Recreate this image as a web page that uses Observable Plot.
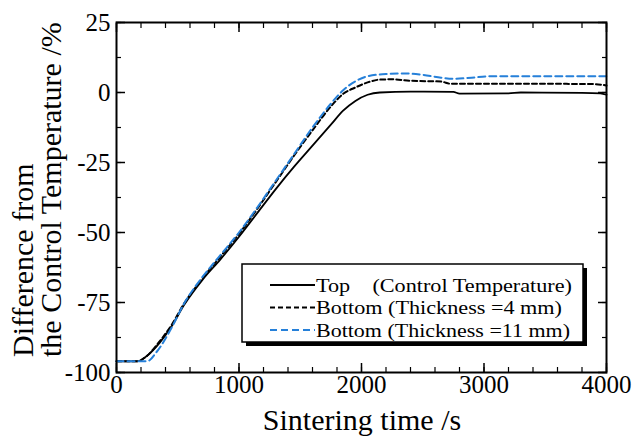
<!DOCTYPE html>
<html><head><meta charset="utf-8">
<script src="https://cdn.jsdelivr.net/npm/d3@7"></script>
<script src="https://cdn.jsdelivr.net/npm/@observablehq/plot@0.6"></script>
<style>body{margin:0;background:#fff} svg{display:block}</style>
</head><body><div id="chart"></div>
<script>
const seriesNames = ["Top    (Control Temperature)", "Bottom (Thickness =4 mm)", "Bottom (Thickness =11 mm)"];
const seriesColors = ["#000000", "#000000", "#2680d9"];
const seriesDash = [null, "5,3", "7,4"];
const legendTextWidths = [256, 246, 254];

const topTime  = [0, 170, 250, 350, 450, 550, 700, 850, 1000, 1150, 1300, 1450, 1600, 1750, 1850, 1950, 2050, 2150, 2400, 2750, 2800, 3200, 3300, 3800, 3950, 4000];
const topValue = [-96, -96, -94, -89.5, -83.5, -76, -67, -59.5, -51.5, -43, -34.5, -26.5, -19, -11.5, -6.5, -3, -0.8, 0, 0.3, 0.2, -0.4, -0.3, 0, -0.1, -0.3, -0.8];

const bot4Time  = [0, 170, 250, 350, 450, 550, 700, 850, 1000, 1150, 1300, 1450, 1600, 1750, 1850, 1950, 2050, 2150, 2250, 2400, 2650, 2730, 3000, 3500, 3900, 4000];
const bot4Value = [-96, -96, -94, -89, -83, -75.5, -66.5, -58.5, -50.5, -41.5, -32, -22.5, -13.5, -5, -0.5, 1.8, 3.6, 4.6, 4.7, 4.2, 3.9, 3.1, 3.1, 3.1, 3.0, 2.5];

const bot11Time  = [0, 250, 330, 450, 550, 700, 850, 1000, 1150, 1300, 1450, 1600, 1750, 1850, 1950, 2050, 2200, 2350, 2500, 2650, 2750, 2900, 3050, 4000];
const bot11Value = [-96, -96, -92.5, -84, -75.5, -66, -58, -50, -41, -31.5, -22, -12.5, -4, 0.8, 4, 5.8, 6.6, 6.8, 6.3, 5.3, 4.9, 5.3, 5.8, 5.8];

const xMajorTicks = [0, 1000, 2000, 3000, 4000];
const xMinorTicks = [0, 200, 400, 600, 800, 1000, 1200, 1400, 1600, 1800, 2000, 2200, 2400, 2600, 2800, 3000, 3200, 3400, 3600, 3800, 4000];
const yMajorTicks = [-100, -75, -50, -25, 0, 25];
const yMinorTicks = [-100, -87.5, -75, -62.5, -50, -37.5, -25, -12.5, 0, 12.5, 25];

const xLabel = "Sintering time /s";
const yLabelLines = ["Difference from", "the Control Temperature /%"];

const times = [topTime, bot4Time, bot11Time];
const values = [topValue, bot4Value, bot11Value];
const rows = [];
seriesNames.forEach((s, i) => times[i].forEach((t, j) => rows.push({series: s, idx: i, t, v: values[i][j]})));

const font = "'Liberation Serif', 'Times New Roman', serif";
const lineMarks = seriesNames.map((s, i) => Plot.line(rows.filter(r => r.idx === i), {
  x: "t", y: "v", stroke: seriesColors[i], strokeWidth: i === 0 ? 1.8 : 2,
  strokeDasharray: seriesDash[i], curve: "monotone-x"
}));

const fmt = d => String(d);
const plot = Plot.plot({
  width: 634, height: 439,
  marginLeft: 116, marginRight: 28, marginTop: 22, marginBottom: 67,
  style: {fontFamily: font, background: "white", color: "black"},
  x: {domain: [0, 4000], axis: null},
  y: {domain: [-100, 25], axis: null},
  marks: [
    ...lineMarks,
    Plot.axisX(xMajorTicks, {anchor: "bottom", tickSize: 0, tickPadding: 3, fontSize: 25, tickFormat: fmt, label: null}),
    Plot.axisX(xMajorTicks, {anchor: "bottom", tickSize: -9, strokeWidth: 1.5, fill: "none", label: null}),
    Plot.axisX(xMinorTicks, {anchor: "bottom", tickSize: -5, strokeWidth: 1.2, fill: "none", label: null}),
    Plot.axisX(xMajorTicks, {anchor: "top", tickSize: -9, strokeWidth: 1.5, fill: "none", label: null}),
    Plot.axisX(xMinorTicks, {anchor: "top", tickSize: -5, strokeWidth: 1.2, fill: "none", label: null}),
    Plot.axisY(yMajorTicks, {anchor: "left", tickSize: 0, tickPadding: 6, fontSize: 25, tickFormat: fmt, label: null}),
    Plot.axisY(yMajorTicks, {anchor: "left", tickSize: -9, strokeWidth: 1.5, fill: "none", label: null}),
    Plot.axisY(yMinorTicks, {anchor: "left", tickSize: -5, strokeWidth: 1.2, fill: "none", label: null}),
    Plot.axisY(yMajorTicks, {anchor: "right", tickSize: -9, strokeWidth: 1.5, fill: "none", label: null}),
    Plot.axisY(yMinorTicks, {anchor: "right", tickSize: -5, strokeWidth: 1.2, fill: "none", label: null}),
    Plot.frame({stroke: "black", strokeWidth: 2})
  ]
});
document.getElementById("chart").appendChild(plot);

const svg = d3.select(plot);
// axis titles
svg.append("text").attr("x", 362).attr("y", 430).attr("text-anchor", "middle")
  .attr("font-family", font).attr("font-size", 30).attr("fill", "black").text(xLabel);
yLabelLines.forEach((line, i) => {
  svg.append("text").attr("transform", `translate(${33 + i * 28},357) rotate(-90)`)
    .attr("text-anchor", "start").attr("font-family", font).attr("font-size", 30)
    .attr("fill", "black").text(line);
});

// legend
const lg = svg.append("g");
lg.append("rect").attr("x", 246).attr("y", 268).attr("width", 341).attr("height", 78).attr("fill", "black");
lg.append("rect").attr("x", 242).attr("y", 264).attr("width", 341).attr("height", 78)
  .attr("fill", "white").attr("stroke", "black").attr("stroke-width", 1.5);
seriesNames.forEach((s, i) => {
  const yy = 285 + i * 22.5;
  lg.append("line").attr("x1", 270).attr("x2", 315).attr("y1", yy).attr("y2", yy)
    .attr("stroke", seriesColors[i]).attr("stroke-width", 2)
    .attr("stroke-dasharray", seriesDash[i] || null);
  lg.append("text").attr("x", 316).attr("y", yy).attr("dy", "0.35em")
    .attr("text-anchor", "start")
    .attr("font-family", font).attr("font-size", 19.5).attr("fill", "black")
    .attr("textLength", legendTextWidths[i]).attr("lengthAdjust", "spacingAndGlyphs")
    .style("white-space", "pre").text(s);
});
</script>
</body></html>
